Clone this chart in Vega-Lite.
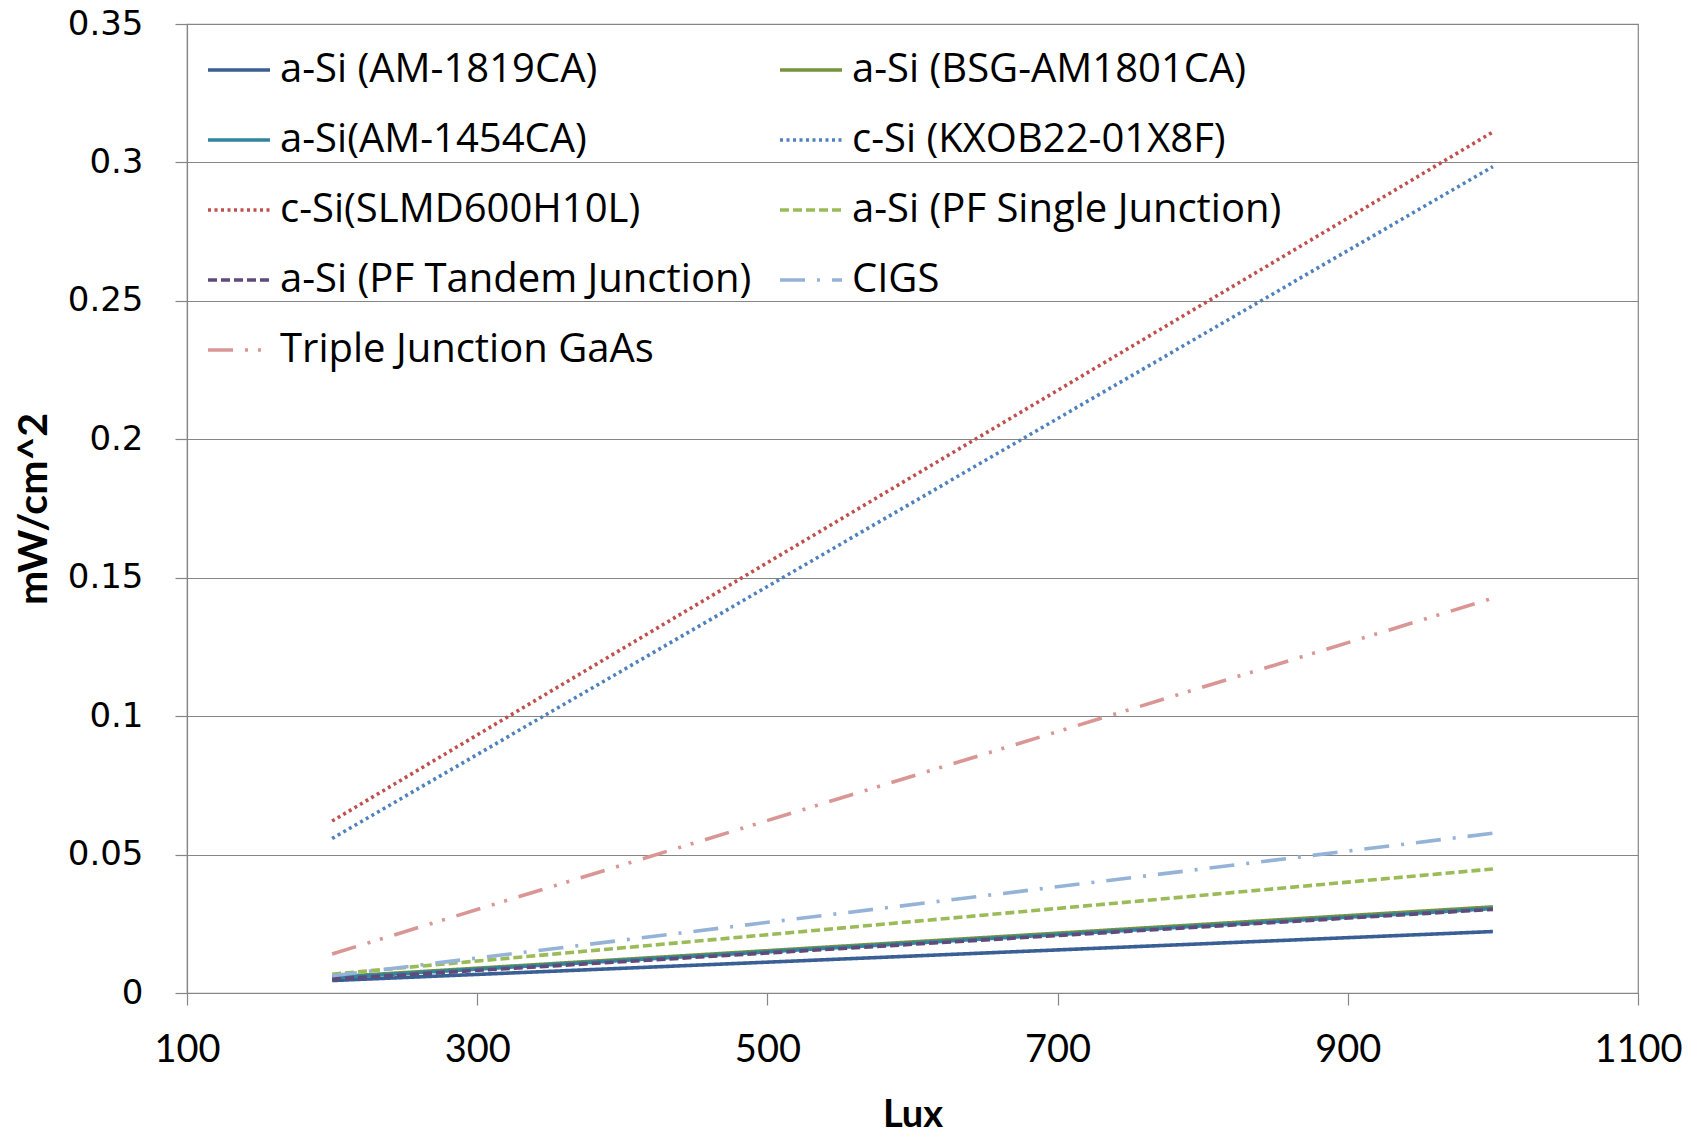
{
  "$schema": "https://vega.github.io/schema/vega-lite/v6.json",
  "autosize": "none",
  "width": 1451,
  "height": 969,
  "padding": {"left": 187, "top": 24, "right": 66, "bottom": 142},
  "background": "white",
  "config": {
    "view": {"stroke": "#868686", "strokeWidth": 1.2},
    "axis": {"gridColor": "#868686", "tickColor": "#868686", "domainColor": "#868686", "gridWidth": 1.2, "tickWidth": 1.2, "domainWidth": 1.2}
  },
  "data": {
    "values": [
      {"series": "a-Si (AM-1819CA)", "lux": 200, "p": 0.0045},
      {"series": "a-Si (AM-1819CA)", "lux": 1000, "p": 0.0222},
      {"series": "a-Si (BSG-AM1801CA)", "lux": 200, "p": 0.0058},
      {"series": "a-Si (BSG-AM1801CA)", "lux": 1000, "p": 0.0311},
      {"series": "a-Si(AM-1454CA)", "lux": 200, "p": 0.0055},
      {"series": "a-Si(AM-1454CA)", "lux": 1000, "p": 0.0305},
      {"series": "c-Si (KXOB22-01X8F)", "lux": 200, "p": 0.0558},
      {"series": "c-Si (KXOB22-01X8F)", "lux": 1000, "p": 0.2985},
      {"series": "c-Si(SLMD600H10L)", "lux": 200, "p": 0.0621},
      {"series": "c-Si(SLMD600H10L)", "lux": 1000, "p": 0.311},
      {"series": "a-Si (PF Single Junction)", "lux": 200, "p": 0.0068},
      {"series": "a-Si (PF Single Junction)", "lux": 1000, "p": 0.0448},
      {"series": "a-Si (PF Tandem Junction)", "lux": 200, "p": 0.005},
      {"series": "a-Si (PF Tandem Junction)", "lux": 1000, "p": 0.0302},
      {"series": "CIGS", "lux": 200, "p": 0.0062},
      {"series": "CIGS", "lux": 1000, "p": 0.0577},
      {"series": "Triple Junction GaAs", "lux": 200, "p": 0.0141},
      {"series": "Triple Junction GaAs", "lux": 1000, "p": 0.1426}
    ]
  },
  "mark": {"type": "line", "strokeWidth": 3.6},
  "encoding": {
    "x": {
      "field": "lux", "type": "quantitative",
      "scale": {"domain": [100, 1100], "nice": false},
      "axis": {"values": [100, 300, 500, 700, 900, 1100], "format": "d", "labelFlush": false, "grid": false, "title": "Lux", "tickSize": 12,
        "labelFont": "Lato", "labelFontSize": 38, "labelColor": "#000", "labelPadding": 26,
        "titleFont": "Lato", "titleFontSize": 38, "titleFontWeight": "bold", "titleColor": "#000", "titlePadding": 27}
    },
    "y": {
      "field": "p", "type": "quantitative",
      "scale": {"domain": [0, 0.35], "nice": false},
      "axis": {"values": [0, 0.05, 0.1, 0.15, 0.2, 0.25, 0.3, 0.35], "format": "~g", "labelFlush": false, "title": "mW/cm^2", "tickSize": 12,
        "labelFont": "DejaVu Sans", "labelFontSize": 34, "labelColor": "#000", "labelPadding": 32,
        "titleFont": "Lato", "titleFontSize": 41, "titleFontWeight": "bold", "titleColor": "#000", "titlePadding": 12}
    },
    "color": {
      "field": "series", "type": "nominal",
      "scale": {
        "domain": ["a-Si (AM-1819CA)", "a-Si(AM-1454CA)", "c-Si(SLMD600H10L)", "a-Si (PF Tandem Junction)", "Triple Junction GaAs", "a-Si (BSG-AM1801CA)", "c-Si (KXOB22-01X8F)", "a-Si (PF Single Junction)", "CIGS"],
        "range": ["#3A5F95", "#31859C", "#C0504D", "#604A7B", "#D99694", "#77933C", "#4F81BD", "#9BBB59", "#95B3D7"]
      },
      "legend": {
        "title": null, "orient": "none", "legendX": 19, "legendY": 13, "columns": 2,
        "symbolType": "stroke", "symbolSize": 3844, "symbolStrokeWidth": 3.6,
        "labelFont": "Open Sans", "labelFontSize": 40, "labelColor": "#000", "labelOffset": 8,
        "columnPadding": 20, "rowPadding": 17, "labelLimit": 700
      }
    },
    "strokeDash": {
      "field": "series", "type": "nominal",
      "scale": {
        "domain": ["a-Si (AM-1819CA)", "a-Si(AM-1454CA)", "c-Si(SLMD600H10L)", "a-Si (PF Tandem Junction)", "Triple Junction GaAs", "a-Si (BSG-AM1801CA)", "c-Si (KXOB22-01X8F)", "a-Si (PF Single Junction)", "CIGS"],
        "range": [[1, 0], [1, 0], [3, 3.5], [9, 4], [25, 12, 3, 10, 3, 12], [1, 0], [3, 3.5], [9, 4], [25, 12, 3, 12]]
      },
      "legend": null
    }
  }
}
